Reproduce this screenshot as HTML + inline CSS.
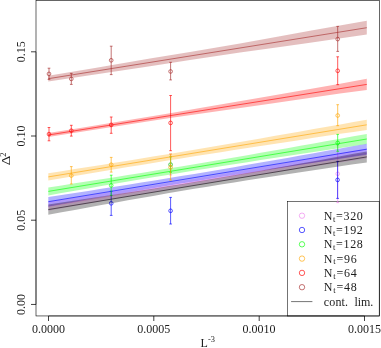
<!DOCTYPE html>
<html><head><meta charset="utf-8"><style>
html,body{margin:0;padding:0;background:#fff}
body{width:381px;height:348px;overflow:hidden}
.t{font-family:"Liberation Serif",serif;font-size:12px;fill:#1c1c1c;filter:opacity(1)}
</style></head><body>
<svg width="381" height="348" viewBox="0 0 381 348" style="display:block">
<rect width="381" height="348" fill="#fff"/>
<rect x="287.4" y="201.3" width="91.8" height="114.7" fill="#fff" stroke="#000" stroke-width="0.55"/>
<polygon points="48.3,201.80 61.6,199.77 74.8,197.73 88.1,195.67 101.4,193.60 114.7,191.52 127.9,189.42 141.2,187.30 154.5,185.17 167.7,183.01 181.0,180.83 194.3,178.63 207.6,176.41 220.8,174.16 234.1,171.90 247.4,169.62 260.6,167.31 273.9,164.99 287.2,162.66 300.4,160.31 313.7,157.95 327.0,155.57 340.3,153.19 353.5,150.80 366.8,148.40 366.8,158.40 353.5,160.41 340.3,162.42 327.0,164.45 313.7,166.49 300.4,168.53 287.2,170.59 273.9,172.66 260.6,174.75 247.4,176.86 234.1,178.98 220.8,181.13 207.6,183.29 194.3,185.48 181.0,187.69 167.7,189.92 154.5,192.17 141.2,194.44 127.9,196.73 114.7,199.04 101.4,201.36 88.1,203.70 74.8,206.06 61.6,208.42 48.3,210.80" fill="#ee82ee" fill-opacity="0.3"/>
<line x1="48.3" y1="206.3" x2="366.8" y2="153.4" stroke="#ee82ee" stroke-width="0.6"/>
<g stroke="#ee82ee" stroke-width="0.65" fill="none"><circle cx="170.6" cy="164.5" r="1.85"/><path d="M170.6 154V175M169.25 154H171.95M169.25 175H171.95"/><circle cx="337.7" cy="173.8" r="1.85"/><path d="M337.7 145V202.6M336.34999999999997 145H339.05M336.34999999999997 202.6H339.05"/></g>
<polygon points="48.3,197.00 61.6,194.98 74.8,192.95 88.1,190.90 101.4,188.84 114.7,186.76 127.9,184.67 141.2,182.55 154.5,180.41 167.7,178.26 181.0,176.08 194.3,173.88 207.6,171.66 220.8,169.42 234.1,167.15 247.4,164.87 260.6,162.57 273.9,160.26 287.2,157.92 300.4,155.58 313.7,153.22 327.0,150.86 340.3,148.48 353.5,146.09 366.8,143.70 366.8,154.70 353.5,156.68 340.3,158.67 327.0,160.67 313.7,162.68 300.4,164.69 287.2,166.73 273.9,168.77 260.6,170.83 247.4,172.90 234.1,175.00 220.8,177.11 207.6,179.24 194.3,181.40 181.0,183.57 167.7,185.77 154.5,187.99 141.2,190.22 127.9,192.48 114.7,194.76 101.4,197.06 88.1,199.37 74.8,201.70 61.6,204.05 48.3,206.40" fill="#0000ff" fill-opacity="0.3"/>
<line x1="48.3" y1="201.7" x2="366.8" y2="149.2" stroke="#0000ff" stroke-width="0.6"/>
<g stroke="#0000ff" stroke-width="0.65" fill="none"><circle cx="111.2" cy="203.3" r="1.85"/><path d="M111.2 191.2V215.4M109.85000000000001 191.2H112.55M109.85000000000001 215.4H112.55"/><circle cx="170.6" cy="210.8" r="1.85"/><path d="M170.6 197.4V224.0M169.25 197.4H171.95M169.25 224.0H171.95"/><circle cx="337.6" cy="179.9" r="1.85"/><path d="M337.6 161.4V198.4M336.25 161.4H338.95000000000005M336.25 198.4H338.95000000000005"/></g>
<polygon points="48.3,187.40 61.6,185.38 74.8,183.35 88.1,181.30 101.4,179.24 114.7,177.15 127.9,175.05 141.2,172.93 154.5,170.79 167.7,168.62 181.0,166.43 194.3,164.21 207.6,161.98 220.8,159.72 234.1,157.44 247.4,155.14 260.6,152.83 273.9,150.50 287.2,148.16 300.4,145.80 313.7,143.44 327.0,141.06 340.3,138.68 353.5,136.29 366.8,133.90 366.8,144.10 353.5,146.07 340.3,148.05 327.0,150.04 313.7,152.03 300.4,154.03 287.2,156.04 273.9,158.07 260.6,160.11 247.4,162.16 234.1,164.23 220.8,166.32 207.6,168.42 194.3,170.55 181.0,172.71 167.7,174.88 154.5,177.08 141.2,179.30 127.9,181.55 114.7,183.81 101.4,186.10 88.1,188.40 74.8,190.72 61.6,193.05 48.3,195.40" fill="#00ff00" fill-opacity="0.3"/>
<line x1="48.3" y1="191.4" x2="366.8" y2="139.0" stroke="#00ff00" stroke-width="0.6"/>
<g stroke="#00ff00" stroke-width="0.65" fill="none"><circle cx="111.2" cy="185.4" r="1.85"/><path d="M111.2 175.2V195.3M109.85000000000001 175.2H112.55M109.85000000000001 195.3H112.55"/><circle cx="170.6" cy="164.6" r="1.85"/><path d="M170.6 156.8V172.3M169.25 156.8H171.95M169.25 172.3H171.95"/><circle cx="337.7" cy="142.9" r="1.85"/><path d="M337.7 134.4V151.3M336.34999999999997 134.4H339.05M336.34999999999997 151.3H339.05"/></g>
<polygon points="48.3,173.20 61.6,171.15 74.8,169.08 88.1,167.00 101.4,164.90 114.7,162.78 127.9,160.65 141.2,158.50 154.5,156.34 167.7,154.15 181.0,151.95 194.3,149.72 207.6,147.48 220.8,145.23 234.1,142.96 247.4,140.68 260.6,138.38 273.9,136.07 287.2,133.76 300.4,131.43 313.7,129.10 327.0,126.76 340.3,124.41 353.5,122.06 366.8,119.70 366.8,129.90 353.5,131.88 340.3,133.87 327.0,135.87 313.7,137.87 300.4,139.88 287.2,141.89 273.9,143.92 260.6,145.95 247.4,148.00 234.1,150.06 220.8,152.13 207.6,154.22 194.3,156.32 181.0,158.44 167.7,160.57 154.5,162.73 141.2,164.90 127.9,167.10 114.7,169.31 101.4,171.53 88.1,173.78 74.8,176.04 61.6,178.31 48.3,180.60" fill="#ffa500" fill-opacity="0.3"/>
<line x1="48.3" y1="176.9" x2="366.8" y2="124.8" stroke="#ffa500" stroke-width="0.6"/>
<g stroke="#ffa500" stroke-width="0.65" fill="none"><circle cx="71.3" cy="175.6" r="1.85"/><path d="M71.3 166.6V184M69.95 166.6H72.64999999999999M69.95 184H72.64999999999999"/><circle cx="111.2" cy="164.7" r="1.85"/><path d="M111.2 157.4V172.1M109.85000000000001 157.4H112.55M109.85000000000001 172.1H112.55"/><circle cx="170.6" cy="167.3" r="1.85"/><path d="M170.6 154V180.1M169.25 154H171.95M169.25 180.1H171.95"/><circle cx="337.7" cy="115.5" r="1.85"/><path d="M337.7 104.7V125.7M336.34999999999997 104.7H339.05M336.34999999999997 125.7H339.05"/></g>
<polygon points="48.3,133.05 80.0,127.91 170.0,113.27 200.0,108.10 270.0,95.88 340.0,83.76 366.8,78.80 366.8,90.00 340.0,93.56 270.0,103.68 200.0,113.70 170.0,118.07 80.0,132.01 48.3,136.95" fill="#ff0000" fill-opacity="0.3"/>
<line x1="48.3" y1="135.0" x2="366.8" y2="84.4" stroke="#ff0000" stroke-width="0.6"/>
<g stroke="#ff0000" stroke-width="0.65" fill="none"><circle cx="49.0" cy="134.1" r="1.85"/><path d="M49.0 127.5V140.8M47.65 127.5H50.35M47.65 140.8H50.35"/><circle cx="71.3" cy="130.7" r="1.85"/><path d="M71.3 125.3V136.1M69.95 125.3H72.64999999999999M69.95 136.1H72.64999999999999"/><circle cx="111.2" cy="124.9" r="1.85"/><path d="M111.2 117.0V133.3M109.85000000000001 117.0H112.55M109.85000000000001 133.3H112.55"/><circle cx="170.6" cy="122.9" r="1.85"/><path d="M170.6 95.5V150.7M169.25 95.5H171.95M169.25 150.7H171.95"/><circle cx="337.7" cy="70.8" r="1.85"/><path d="M337.7 56.8V84.7M336.34999999999997 56.8H339.05M336.34999999999997 84.7H339.05"/></g>
<polygon points="48.3,75.80 95.0,68.02 150.0,58.62 190.0,51.91 240.0,43.40 280.0,36.30 310.0,30.80 366.8,20.80 366.8,34.60 310.0,42.80 280.0,46.90 240.0,52.60 190.0,60.11 150.0,66.22 95.0,74.42 48.3,81.60" fill="#a52a2a" fill-opacity="0.3"/>
<line x1="48.3" y1="78.7" x2="366.8" y2="27.7" stroke="#a52a2a" stroke-width="0.6"/>
<g stroke="#a52a2a" stroke-width="0.65" fill="none"><circle cx="49.0" cy="73.9" r="1.85"/><path d="M49.0 68.2V79.4M47.65 68.2H50.35M47.65 79.4H50.35"/><circle cx="71.3" cy="78.9" r="1.85"/><path d="M71.3 73.4V84.4M69.95 73.4H72.64999999999999M69.95 84.4H72.64999999999999"/><circle cx="111.2" cy="60.3" r="1.85"/><path d="M111.2 46.2V74.6M109.85000000000001 46.2H112.55M109.85000000000001 74.6H112.55"/><circle cx="170.6" cy="71.45" r="1.85"/><path d="M170.6 62.3V79.9M169.25 62.3H171.95M169.25 79.9H171.95"/><circle cx="337.7" cy="39.1" r="1.85"/><path d="M337.7 26.4V51.4M336.34999999999997 26.4H339.05M336.34999999999997 51.4H339.05"/></g>
<polygon points="48.3,204.40 61.6,202.46 74.8,200.50 88.1,198.54 101.4,196.55 114.7,194.55 127.9,192.53 141.2,190.49 154.5,188.42 167.7,186.32 181.0,184.19 194.3,182.03 207.6,179.83 220.8,177.59 234.1,175.33 247.4,173.03 260.6,170.71 273.9,168.36 287.2,165.98 300.4,163.59 313.7,161.18 327.0,158.75 340.3,156.31 353.5,153.86 366.8,151.40 366.8,162.40 353.5,164.33 340.3,166.27 327.0,168.22 313.7,170.19 300.4,172.17 287.2,174.17 273.9,176.19 260.6,178.23 247.4,180.29 234.1,182.39 220.8,184.51 207.6,186.67 194.3,188.87 181.0,191.09 167.7,193.36 154.5,195.65 141.2,197.97 127.9,200.32 114.7,202.69 101.4,205.08 88.1,207.49 74.8,209.91 61.6,212.35 48.3,214.80" fill="#000" fill-opacity="0.3"/>
<line x1="48.3" y1="209.6" x2="366.8" y2="156.9" stroke="#000" stroke-width="0.55"/>
<circle cx="302" cy="215.7" r="2.7" fill="none" stroke="#ee82ee" stroke-width="0.65"/>
<text x="323.8" y="219.7" class="t" textLength="39" lengthAdjust="spacing">N<tspan font-size="8.4" dy="1.8">t</tspan><tspan dy="-1.8">=320</tspan></text>
<circle cx="302" cy="230.0" r="2.7" fill="none" stroke="#0000ff" stroke-width="0.65"/>
<text x="323.8" y="234.0" class="t" textLength="39" lengthAdjust="spacing">N<tspan font-size="8.4" dy="1.8">t</tspan><tspan dy="-1.8">=192</tspan></text>
<circle cx="302" cy="244.3" r="2.7" fill="none" stroke="#00ff00" stroke-width="0.65"/>
<text x="323.8" y="248.3" class="t" textLength="39" lengthAdjust="spacing">N<tspan font-size="8.4" dy="1.8">t</tspan><tspan dy="-1.8">=128</tspan></text>
<circle cx="302" cy="258.6" r="2.7" fill="none" stroke="#ffa500" stroke-width="0.65"/>
<text x="323.8" y="262.6" class="t" textLength="33" lengthAdjust="spacing">N<tspan font-size="8.4" dy="1.8">t</tspan><tspan dy="-1.8">=96</tspan></text>
<circle cx="302" cy="272.9" r="2.7" fill="none" stroke="#ff0000" stroke-width="0.65"/>
<text x="323.8" y="276.9" class="t" textLength="33" lengthAdjust="spacing">N<tspan font-size="8.4" dy="1.8">t</tspan><tspan dy="-1.8">=64</tspan></text>
<circle cx="302" cy="287.2" r="2.7" fill="none" stroke="#a52a2a" stroke-width="0.65"/>
<text x="323.8" y="291.2" class="t" textLength="33" lengthAdjust="spacing">N<tspan font-size="8.4" dy="1.8">t</tspan><tspan dy="-1.8">=48</tspan></text>
<line x1="291.1" y1="301.6" x2="312.4" y2="301.6" stroke="#000" stroke-width="0.55"/>
<text x="323.8" y="305.6" class="t" textLength="24.3" lengthAdjust="spacing">cont.</text><text x="354.5" y="305.6" class="t" textLength="18.8" lengthAdjust="spacing">lim.</text>
<rect x="36.0" y="0.4" width="343.5" height="315.55" fill="none" stroke="#000" stroke-width="0.6"/>
<path d="M36.0 51.8V304.4M48.5 315.95H364.5" fill="none" stroke="#000" stroke-width="0.5"/>
<line x1="48.5" y1="316" x2="48.5" y2="321" stroke="#000" stroke-width="0.75"/>
<text x="48.4" y="333.2" class="t" text-anchor="middle">0.0000</text>
<line x1="153.8" y1="316" x2="153.8" y2="321" stroke="#000" stroke-width="0.75"/>
<text x="153.70000000000002" y="333.2" class="t" text-anchor="middle">0.0005</text>
<line x1="259.2" y1="316" x2="259.2" y2="321" stroke="#000" stroke-width="0.75"/>
<text x="259.09999999999997" y="333.2" class="t" text-anchor="middle">0.0010</text>
<line x1="364.5" y1="316" x2="364.5" y2="321" stroke="#000" stroke-width="0.75"/>
<text x="364.4" y="333.2" class="t" text-anchor="middle">0.0015</text>
<line x1="31.0" y1="304.45" x2="36.0" y2="304.45" stroke="#000" stroke-width="0.75"/>
<text transform="translate(24.8,304.45) rotate(-90)" class="t" text-anchor="middle">0.00</text>
<line x1="31.0" y1="220.2" x2="36.0" y2="220.2" stroke="#000" stroke-width="0.75"/>
<text transform="translate(24.8,220.2) rotate(-90)" class="t" text-anchor="middle">0.05</text>
<line x1="31.0" y1="136.0" x2="36.0" y2="136.0" stroke="#000" stroke-width="0.75"/>
<text transform="translate(24.8,136.0) rotate(-90)" class="t" text-anchor="middle">0.10</text>
<line x1="31.0" y1="51.8" x2="36.0" y2="51.8" stroke="#000" stroke-width="0.75"/>
<text transform="translate(24.8,51.8) rotate(-90)" class="t" text-anchor="middle">0.15</text>
<text x="200.6" y="347.2" class="t">L<tspan font-size="8.4" dy="-5">-3</tspan></text>
<g transform="translate(9.9,165.3) rotate(-90)"><text transform="scale(1.25,1)" class="t">Δ</text><text x="8.6" y="-3.9" class="t" style="font-size:8.6px">2</text></g>
</svg>
</body></html>
